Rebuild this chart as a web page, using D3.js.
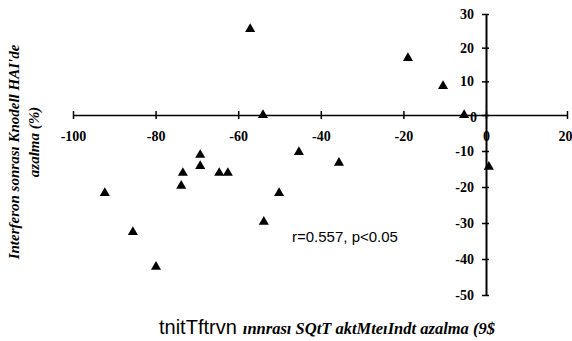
<!DOCTYPE html>
<html>
<head>
<meta charset="utf-8">
<script src="https://cdn.jsdelivr.net/npm/d3@7"></script>
<style>
  body { margin: 0; background: #fff; }
  svg { display: block; }
</style>
</head>
<body>
<div id="plot"></div>
<script>
// values (x: first reduction %, y: HAI reduction %)
var xValues = [-57.1, -18.9, -10.4, -5.3, -54, -45.3, -35.6, 0.7, -69.2, -69.2,
  -73.4, -73.8, -64.6, -62.5, -92.3, -85.5, -79.9, -50.1, -53.8];
var yValues = [25.5, 16.9, 8.6, 0, 0, -10.3, -13.3, -14.4, -11.1, -14.2,
  -16.1, -19.7, -16.1, -16.1, -21.7, -32.5, -42.2, -21.7, -29.7];
var xTicks = [-100, -80, -60, -40, -20, 0, 20];
var yTicks = [30, 20, 10, 0, -10, -20, -30, -40, -50];
var statText = "r=0.557, p<0.05";
var yTitle = ["Interferon sonrası Knodell HAI'de", "azalma (%)"];
var xTitleA = "tnitTftrvn";
var xTitleB = "ınnrası SQtT aktMteıIndt azalma (9$";

var width = 572;
var height = 341;

var svg = d3.select("#plot").append("svg")
    .attr("width", width)
    .attr("height", height);

// the scanned axes are a bit uneven, so a three point domain
var x = d3.scaleLinear().domain([-100, 0, 20]).range([73, 486, 567]);
var y = d3.scaleLinear().domain([-50, 0, 30]).range([295, 115, 14]);

var serif = "'Liberation Serif', 'DejaVu Serif', serif";
var sans = "'Liberation Sans', Arial, sans-serif";

// x axis through y = 0
var gx = svg.append("g")
    .attr("transform", "translate(0," + y(0) + ")")
    .call(d3.axisBottom(x).tickValues(xTicks).tickSize(0).tickPadding(16)
        .tickFormat(function(d) { return String(d); }));
gx.select(".domain").attr("stroke", "#000").attr("stroke-width", 1.5);
gx.selectAll(".tick line").attr("y1", -4).attr("y2", 4)
    .attr("stroke", "#000").attr("stroke-width", 1.5);
gx.selectAll(".tick text")
    .style("font-family", serif).style("font-weight", "bold")
    .style("font-size", "14px").attr("fill", "#000");
// last label sits at the page edge
gx.selectAll(".tick").filter(function(d) { return d === 20; })
    .select("text").attr("text-anchor", "end").attr("x", 5);

// y axis through x = 0
var gy = svg.append("g")
    .attr("transform", "translate(" + x(0) + ",0)")
    .call(d3.axisLeft(y).tickValues(yTicks).tickSize(0).tickPadding(12)
        .tickFormat(function(d) { return String(d); }));
gy.select(".domain").attr("stroke", "#000").attr("stroke-width", 2);
gy.selectAll(".tick line").attr("x1", -4).attr("x2", 3)
    .attr("stroke", "#000").attr("stroke-width", 1.5);
gy.selectAll(".tick text")
    .style("font-family", serif).style("font-weight", "bold")
    .style("font-size", "14px").attr("fill", "#000");
gy.selectAll(".tick").filter(function(d) { return d === 0; })
    .select("text").attr("dx", 3).attr("dy", "0.45em");

var points = xValues.map(function(v, i) {
    return { x: v, y: yValues[i] };
});

svg.selectAll("path.pt")
    .data(points)
    .enter()
    .append("path")
    .attr("class", "pt")
    .attr("d", d3.symbol().type(d3.symbolTriangle).size(44))
    .attr("transform", function(d) {
        return "translate(" + x(d.x) + "," + y(d.y) + ")";
    })
    .attr("fill", "#000");

svg.append("text")
    .attr("x", 292)
    .attr("y", 242)
    .style("font-family", sans)
    .style("font-size", "15px")
    .text(statText);

// y title, two rotated lines
svg.append("text")
    .attr("transform", "translate(19,152) rotate(-90)")
    .attr("text-anchor", "middle")
    .style("font-family", serif).style("font-style", "italic")
    .style("font-weight", "bold").style("font-size", "15px")
    .text(yTitle[0]);
svg.append("text")
    .attr("transform", "translate(39,142) rotate(-90)")
    .attr("text-anchor", "middle")
    .style("font-family", serif).style("font-style", "italic")
    .style("font-weight", "bold").style("font-size", "15px")
    .text(yTitle[1]);

// x title
var xt = svg.append("text")
    .attr("x", 159)
    .attr("y", 334);
xt.append("tspan")
    .style("font-family", sans).style("font-size", "20px")
    .text(xTitleA);
xt.append("tspan")
    .attr("dx", 6)
    .style("font-family", serif).style("font-style", "italic")
    .style("font-weight", "bold").style("font-size", "16.5px")
    .text(xTitleB);
</script>
</body>
</html>
